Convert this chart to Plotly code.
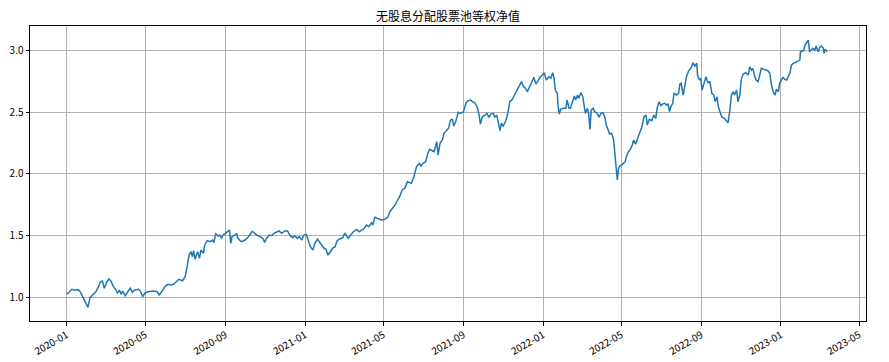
import plotly.graph_objects as go

title_text = "无股息分配股票池等权净值"

dates = [
"2020-01-02","2020-01-09","2020-01-14","2020-01-19","2020-01-22","2020-02-03","2020-02-06","2020-02-11","2020-02-15","2020-02-19",
"2020-02-22","2020-02-25","2020-02-28","2020-03-03","2020-03-06","2020-03-09","2020-03-13","2020-03-17","2020-03-19","2020-03-22",
"2020-03-25","2020-03-27","2020-03-31","2020-04-04","2020-04-08","2020-04-11","2020-04-15","2020-04-20","2020-04-23","2020-04-27",
"2020-04-30","2020-05-05","2020-05-13","2020-05-19","2020-05-22","2020-05-26","2020-05-31","2020-06-04","2020-06-10","2020-06-14",
"2020-06-18","2020-06-21","2020-06-27","2020-07-01","2020-07-04","2020-07-07","2020-07-10","2020-07-12","2020-07-14","2020-07-16",
"2020-07-20","2020-07-23","2020-07-25","2020-07-29","2020-07-31","2020-08-04","2020-08-08","2020-08-12","2020-08-14","2020-08-17",
"2020-08-21","2020-08-23","2020-08-26","2020-08-28","2020-09-01","2020-09-04","2020-09-07","2020-09-09","2020-09-11","2020-09-15",
"2020-09-18","2020-09-20","2020-09-25","2020-10-01","2020-10-06","2020-10-12","2020-10-16","2020-10-20","2020-10-24","2020-10-28",
"2020-10-31","2020-11-03","2020-11-07","2020-11-11","2020-11-14","2020-11-18","2020-11-22","2020-11-26","2020-12-01","2020-12-05",
"2020-12-09","2020-12-13","2020-12-16","2020-12-20","2020-12-23","2020-12-27","2020-12-30","2021-01-03","2021-01-06","2021-01-09",
"2021-01-13","2021-01-16","2021-01-20","2021-01-24","2021-01-26","2021-01-30","2021-02-02","2021-02-05","2021-02-09","2021-02-12",
"2021-02-16","2021-02-19","2021-02-23","2021-02-28","2021-03-03","2021-03-08","2021-03-16","2021-03-21","2021-03-25","2021-03-29",
"2021-04-02","2021-04-05","2021-04-09","2021-04-13","2021-04-15","2021-04-18","2021-04-23","2021-04-28","2021-05-03","2021-05-08",
"2021-05-11","2021-05-15","2021-05-19","2021-05-23","2021-05-26","2021-05-30","2021-06-03","2021-06-07","2021-06-11","2021-06-13",
"2021-06-17","2021-06-21","2021-06-25","2021-06-28","2021-07-01","2021-07-05","2021-07-08","2021-07-11","2021-07-15","2021-07-18",
"2021-07-22","2021-07-24","2021-07-27","2021-07-31","2021-08-02","2021-08-05","2021-08-09","2021-08-12","2021-08-15","2021-08-17",
"2021-08-20","2021-08-24","2021-08-28","2021-09-01","2021-09-05","2021-09-08","2021-09-12","2021-09-15","2021-09-18","2021-09-22",
"2021-09-25","2021-09-27","2021-09-30","2021-10-04","2021-10-07","2021-10-10","2021-10-13","2021-10-17","2021-10-19","2021-10-22",
"2021-10-24","2021-10-27","2021-10-29","2021-11-01","2021-11-05","2021-11-08","2021-11-11","2021-11-15","2021-11-19","2021-11-22",
"2021-11-25","2021-11-29","2021-12-02","2021-12-04","2021-12-08","2021-12-11","2021-12-14","2021-12-18","2021-12-21","2021-12-24",
"2021-12-27","2021-12-31","2022-01-03","2022-01-06","2022-01-10","2022-01-13","2022-01-16","2022-01-18","2022-01-20","2022-01-23",
"2022-01-24","2022-01-26","2022-01-28","2022-02-01","2022-02-05","2022-02-07","2022-02-10","2022-02-12","2022-02-15","2022-02-18",
"2022-02-20","2022-02-23","2022-02-25","2022-02-28","2022-03-03","2022-03-05","2022-03-07","2022-03-10","2022-03-12","2022-03-14",
"2022-03-16","2022-03-19","2022-03-21","2022-03-24","2022-03-28","2022-03-31","2022-04-03","2022-04-06","2022-04-08","2022-04-11",
"2022-04-13","2022-04-16","2022-04-19","2022-04-21","2022-04-23","2022-04-25","2022-04-27","2022-04-29","2022-05-03","2022-05-07",
"2022-05-09","2022-05-12","2022-05-15","2022-05-18","2022-05-20","2022-05-23","2022-05-27","2022-06-01","2022-06-05","2022-06-08",
"2022-06-10","2022-06-13","2022-06-17","2022-06-20","2022-06-23","2022-06-25","2022-06-28","2022-07-01","2022-07-03","2022-07-07",
"2022-07-09","2022-07-12","2022-07-14","2022-07-16","2022-07-19","2022-07-21","2022-07-25","2022-07-28","2022-07-30","2022-08-01",
"2022-08-04","2022-08-07","2022-08-09","2022-08-12","2022-08-14","2022-08-17","2022-08-19","2022-08-22","2022-08-25","2022-08-26",
"2022-08-29","2022-08-31","2022-09-02","2022-09-05","2022-09-08","2022-09-11","2022-09-14","2022-09-17","2022-09-20","2022-09-22",
"2022-09-25","2022-09-27","2022-09-30","2022-10-02","2022-10-06","2022-10-10","2022-10-12","2022-10-15","2022-10-17","2022-10-20",
"2022-10-22","2022-10-25","2022-10-27","2022-10-30","2022-11-01","2022-11-04","2022-11-08","2022-11-12","2022-11-14","2022-11-17",
"2022-11-19","2022-11-22","2022-11-24","2022-11-27","2022-11-30","2022-12-02","2022-12-06","2022-12-09","2022-12-12","2022-12-15",
"2022-12-17","2022-12-20","2022-12-23","2022-12-25","2022-12-28","2022-12-30","2023-01-02","2023-01-04","2023-01-07","2023-01-10",
"2023-01-12","2023-01-15","2023-01-17","2023-01-20","2023-01-24","2023-01-27","2023-01-30","2023-01-31","2023-02-03","2023-02-05",
"2023-02-07","2023-02-10","2023-02-12","2023-02-14","2023-02-17","2023-02-19","2023-02-22","2023-02-24","2023-02-27","2023-03-02",
"2023-03-04","2023-03-07","2023-03-08","2023-03-10","2023-03-13",
]

nav = [
1.024,1.065,1.058,1.062,1.045,0.918,0.997,1.024,1.045,1.086,
1.126,1.132,1.073,1.126,1.148,1.132,1.086,1.059,1.032,1.059,
1.024,1.051,1.013,1.045,1.073,1.040,1.059,1.065,1.051,1.005,
1.032,1.045,1.051,1.045,1.019,1.045,1.086,1.105,1.100,1.108,
1.132,1.146,1.134,1.167,1.248,1.342,1.369,1.329,1.377,1.308,
1.369,1.316,1.383,1.356,1.424,1.459,1.450,1.464,1.442,1.513,
1.496,1.504,1.478,1.504,1.518,1.531,1.545,1.437,1.491,1.504,
1.513,1.478,1.450,1.464,1.491,1.535,1.518,1.499,1.491,1.478,
1.445,1.478,1.504,1.499,1.518,1.526,1.537,1.518,1.537,1.537,
1.499,1.483,1.499,1.478,1.491,1.464,1.504,1.510,1.450,1.410,
1.383,1.437,1.472,1.445,1.424,1.397,1.391,1.342,1.369,1.397,
1.410,1.456,1.472,1.483,1.520,1.478,1.531,1.550,1.531,1.545,
1.559,1.585,1.572,1.604,1.585,1.648,1.640,1.626,1.632,1.648,
1.693,1.720,1.747,1.788,1.815,1.869,1.883,1.936,1.928,1.923,
1.977,2.058,2.085,2.063,2.085,2.098,2.160,2.198,2.187,2.179,
2.260,2.152,2.247,2.279,2.328,2.349,2.368,2.436,2.441,2.387,
2.422,2.498,2.490,2.503,2.576,2.592,2.598,2.584,2.576,2.543,
2.476,2.403,2.462,2.476,2.490,2.457,2.484,2.490,2.457,2.476,
2.422,2.349,2.409,2.387,2.430,2.490,2.584,2.603,2.646,2.679,
2.700,2.746,2.705,2.700,2.665,2.705,2.733,2.781,2.727,2.746,
2.781,2.800,2.819,2.759,2.786,2.773,2.819,2.773,2.673,2.652,
2.557,2.484,2.522,2.530,2.530,2.598,2.530,2.530,2.576,2.630,
2.598,2.638,2.611,2.657,2.624,2.571,2.490,2.530,2.490,2.360,
2.517,2.530,2.503,2.495,2.462,2.490,2.495,2.457,2.395,2.355,
2.322,2.328,2.287,2.179,2.085,1.950,2.045,2.063,2.079,2.098,
2.139,2.179,2.198,2.233,2.274,2.240,2.300,2.368,2.462,2.476,
2.395,2.441,2.430,2.476,2.449,2.530,2.584,2.549,2.565,2.571,
2.557,2.565,2.503,2.543,2.571,2.652,2.638,2.652,2.727,2.733,
2.638,2.746,2.786,2.827,2.840,2.867,2.900,2.873,2.895,2.800,
2.759,2.773,2.679,2.733,2.786,2.738,2.746,2.652,2.638,2.584,
2.624,2.543,2.503,2.462,2.449,2.430,2.414,2.530,2.638,2.665,
2.638,2.679,2.584,2.638,2.759,2.808,2.819,2.800,2.867,2.840,
2.854,2.786,2.759,2.746,2.814,2.854,2.846,2.840,2.835,2.814,
2.733,2.665,2.638,2.684,2.665,2.733,2.765,2.781,2.765,2.759,
2.786,2.819,2.880,2.895,2.903,2.913,2.921,2.989,2.997,2.997,
3.043,3.070,3.083,2.989,3.008,3.016,3.002,3.035,2.989,3.029,
3.035,3.016,2.976,3.008,2.989,
]

y_ticks = [1.0, 1.5, 2.0, 2.5, 3.0]

font_family = "Noto Sans CJK SC, DejaVu Sans, sans-serif"

fig = go.Figure()
fig.add_trace(go.Scatter(
    x=dates, y=nav, mode="lines",
    line=dict(color="#1f77b4", width=1.5),
    showlegend=False, hoverinfo="x+y",
))

fig.update_layout(
    width=889, height=362,
    margin=dict(l=30, r=23, t=26, b=41, autoexpand=False),
    paper_bgcolor="white", plot_bgcolor="white",
    font=dict(family=font_family, size=10, color="black"),
    title=dict(text=title_text, x=0.5, xref="paper", xanchor="center",
               y=1 - 17 / 362, yref="container", yanchor="middle",
               font=dict(family=font_family, size=12, color="black")),
)

fig.update_xaxes(
    type="date", automargin=False,
    range=["2019-11-06", "2023-05-11 12:00"],
    tick0="2020-01-01", dtick="M4", tickformat="%Y-%m",
    tickangle=-30,
    showgrid=True, gridcolor="#b0b0b0", gridwidth=0.8,
    showline=True, linecolor="black", linewidth=1, mirror=True,
    ticks="outside", ticklen=3.5, tickcolor="black", tickwidth=0.8,
    zeroline=False,
    tickfont=dict(family=font_family, size=10, color="black"),
)

fig.update_yaxes(
    automargin=False,
    range=[0.808, 3.197],
    tickvals=y_ticks, ticktext=[f"{v:.1f}" for v in y_ticks],
    showgrid=True, gridcolor="#b0b0b0", gridwidth=0.8,
    showline=True, linecolor="black", linewidth=1, mirror=True,
    ticks="outside", ticklen=3.5, tickcolor="black", tickwidth=0.8,
    zeroline=False,
    tickfont=dict(family=font_family, size=10, color="black"),
)

fig.write_html(
    "out.html",
    config={"displayModeBar": False},
    post_script="document.body.style.margin='0';document.body.style.overflow='hidden';",
)
